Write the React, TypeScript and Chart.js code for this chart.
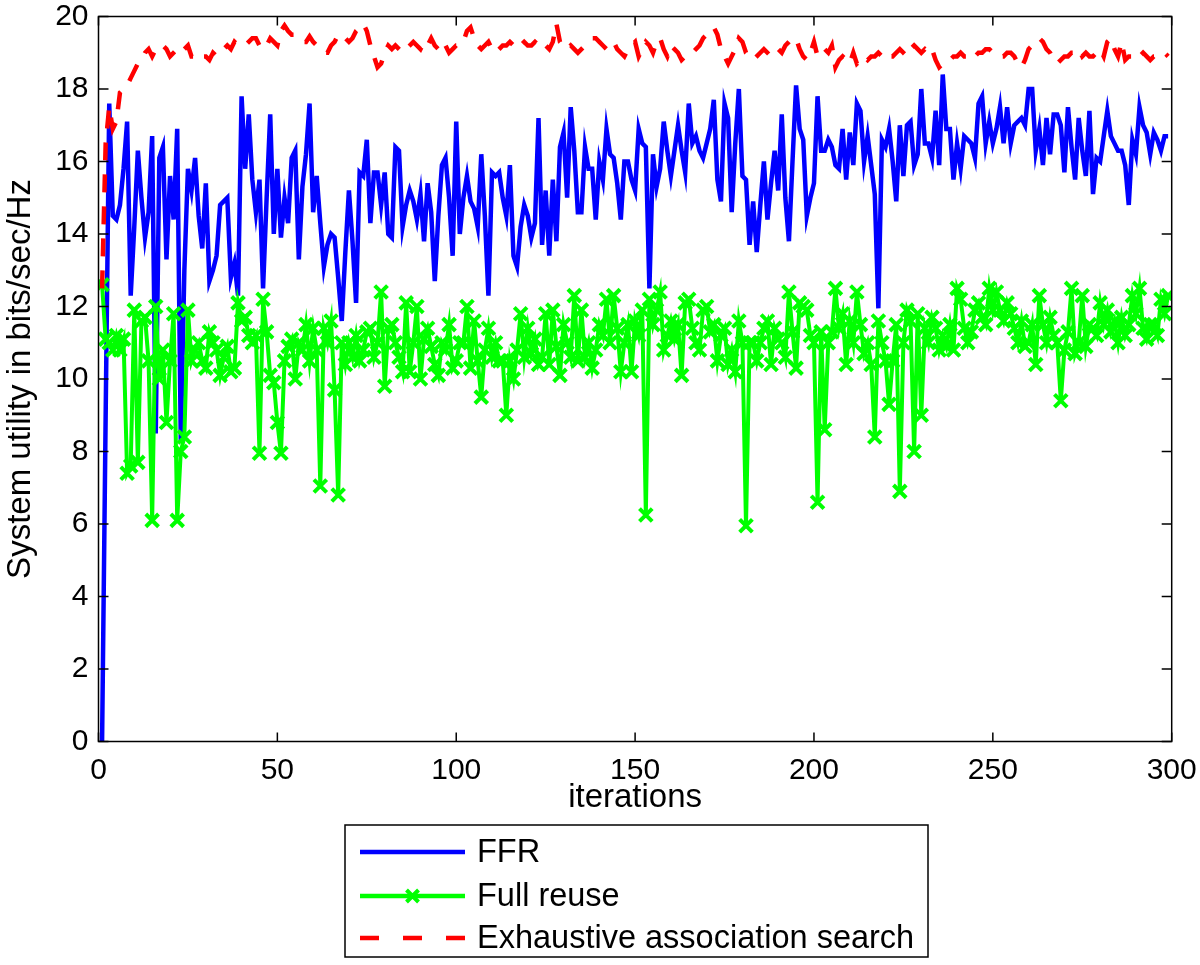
import React, { useEffect, useRef } from "react";
import { Chart, registerables } from "chart.js";

Chart.register(...registerables);

const xTicks = [0, 50, 100, 150, 200, 250, 300];
const yTicks = [0, 2, 4, 6, 8, 10, 12, 14, 16, 18, 20];
const firstIteration = 1;

const seriesLabels = ["FFR", "Full reuse", "Exhaustive association search"];
const xTitle = "iterations";
const yTitle = "System utility in bits/sec/Hz";

const ffr = [
  0, 9.0, 17.6, 14.5, 14.4, 14.8, 15.8, 17.1, 12.3, 14.2,
  16.3, 15.0, 13.9, 14.6, 16.7, 8.5, 16.1, 16.4, 13.3, 15.6,
  14.4, 16.9, 8.3, 13.0, 15.8, 15.2, 16.1, 14.5, 13.6, 15.4,
  12.7, 13.0, 13.4, 14.8, 14.9, 15.0, 12.8, 13.2, 12.3, 17.8,
  15.8, 17.3, 15.5, 14.6, 15.5, 12.5, 15.0, 17.3, 14.0, 15.8,
  13.9, 15.0, 14.3, 16.1, 16.3, 13.3, 15.3, 16.2, 17.6, 14.6,
  15.6, 14.3, 13.1, 13.7, 14.0, 13.9, 12.8, 11.6, 13.5, 15.2,
  13.8, 12.1, 15.7, 15.6, 16.6, 14.3, 15.7, 15.7, 14.8, 15.7,
  14.0, 13.9, 16.4, 16.3, 14.2, 14.8, 15.2, 14.9, 14.4, 15.1,
  13.8, 15.4, 14.6, 12.7, 14.5, 15.9, 16.1, 15.0, 13.4, 17.1,
  14.0, 15.0, 15.6, 14.9, 14.7, 14.2, 16.2, 14.5, 12.3, 15.7,
  15.6, 15.7, 15.0, 14.5, 15.9, 13.4, 13.1, 14.2, 14.8, 14.5,
  13.9, 14.3, 17.2, 13.7, 15.2, 13.4, 15.5, 13.8, 16.4, 16.8,
  15.0, 17.5, 16.3, 14.6, 14.6, 16.4, 15.8, 15.8, 14.4, 16.0,
  15.5, 16.9, 16.2, 16.1, 15.4, 14.4, 16.0, 16.0, 15.5, 15.2,
  16.9, 16.5, 16.4, 12.5, 16.2, 15.3, 15.8, 17.1, 16.3, 15.6,
  16.3, 17.0, 16.3, 15.7, 17.6, 16.5, 16.7, 16.3, 16.1, 16.5,
  16.9, 17.7, 15.5, 14.9, 17.6, 17.2, 14.6, 16.5, 18.0, 15.6,
  15.5, 13.7, 14.9, 13.5, 14.8, 16.0, 14.4, 15.4, 16.3, 15.2,
  17.3, 15.0, 13.8, 16.0, 18.1, 16.9, 16.6, 14.5, 15.0, 15.4,
  17.8, 16.3, 16.3, 16.6, 16.4, 15.9, 15.8, 16.9, 15.5, 16.8,
  15.9, 17.6, 17.4, 16.0, 16.7, 15.9, 15.1, 11.95, 16.6, 16.4,
  16.9, 16.0, 14.9, 17.0, 15.6, 17.0, 17.1, 15.9, 16.2, 18.0,
  16.5, 16.5, 16.1, 17.4, 15.9, 18.4, 16.9, 16.9, 15.5, 16.5,
  15.8, 16.7, 16.6, 16.5, 16.1, 17.6, 17.8, 16.5, 17.1, 16.5,
  16.9, 17.5, 16.5, 17.5, 16.5, 17.0, 17.1, 17.2, 17.0, 18.0,
  18.0, 16.3, 16.9, 15.9, 17.2, 16.2, 17.3, 17.3, 17.0, 15.7,
  17.5, 16.4, 15.5, 17.2, 16.3, 15.6, 17.4, 15.1, 16.1, 16.0,
  16.7, 17.4, 16.7, 16.5, 16.3, 16.3, 15.9, 14.8, 16.6, 16.2,
  17.5, 17.0, 16.8, 16.2, 16.8, 16.6, 16.3, 16.7, 16.7,
];

const fullReuse = [
  12.6, 11.1, 11.0, 10.8, 11.2, 10.8, 11.1, 7.4, 7.6, 11.9,
  7.7, 11.6, 11.7, 10.5, 6.1, 12.0, 10.0, 10.8, 8.8, 10.5,
  11.8, 6.1, 8.0, 8.4, 11.9, 10.5, 10.8, 11.0, 10.5, 10.3,
  11.3, 11.0, 10.8, 10.1, 10.6, 10.9, 10.2, 10.3, 12.1, 11.6,
  11.7, 11.2, 11.0, 11.2, 7.95, 12.2, 11.3, 10.1, 9.9, 8.8,
  7.95, 10.5, 10.9, 11.1, 10.0, 11.0, 10.8, 11.5, 10.5, 11.4,
  10.8, 7.05, 11.4, 11.0, 11.6, 9.7, 6.8, 11.0, 10.4, 11.0,
  10.6, 11.2, 10.5, 10.8, 11.3, 11.4, 10.6, 11.0, 12.4, 9.8,
  11.4, 11.5, 11.0, 10.6, 10.2, 12.1, 10.2, 11.0, 12.0, 10.0,
  11.1, 11.4, 10.9, 10.4, 10.1, 11.0, 10.8, 11.5, 10.3, 10.5,
  11.0, 11.0, 12.0, 10.3, 11.6, 10.5, 9.5, 10.8, 11.4, 10.6,
  11.0, 10.5, 10.5, 9.0, 10.5, 10.0, 10.8, 11.8, 10.6, 11.4,
  10.7, 11.1, 10.4, 10.6, 11.8, 10.4, 11.9, 10.9, 10.1, 11.5,
  11.0, 10.6, 12.3, 10.5, 11.9, 10.6, 11.0, 10.3, 10.8, 11.5,
  11.2, 12.2, 11.0, 12.3, 11.4, 10.2, 11.0, 11.5, 10.2, 11.6,
  11.2, 11.9, 6.25, 12.2, 11.5, 11.9, 12.4, 10.8, 11.2, 11.6,
  11.1, 11.5, 10.1, 12.1, 12.2, 11.4, 11.0, 10.8, 11.9, 12.0,
  11.3, 11.5, 10.5, 11.2, 11.4, 10.4, 10.8, 10.2, 11.6, 11.0,
  5.95, 11.0, 11.0, 10.5, 11.0, 11.4, 11.6, 10.4, 11.4, 11.1,
  11.0, 10.6, 12.4, 11.3, 10.3, 12.1, 12.0, 11.9, 11.2, 11.0,
  6.6, 11.3, 8.6, 11.0, 11.3, 12.5, 11.4, 11.8, 10.4, 11.6,
  11.0, 12.4, 11.5, 10.7, 11.0, 10.4, 8.4, 11.6, 11.0, 10.5,
  9.3, 10.5, 11.5, 6.9, 11.0, 11.9, 11.6, 8.0, 11.8, 9.0,
  11.4, 11.0, 11.7, 11.4, 10.8, 11.2, 10.9, 11.5, 10.8, 12.5,
  12.2, 11.4, 11.0, 11.3, 11.9, 12.1, 11.7, 11.5, 12.5, 11.9,
  12.4, 11.9, 11.6, 12.1, 11.8, 11.4, 11.0, 11.6, 10.9, 11.0,
  11.5, 10.4, 12.3, 11.5, 11.0, 11.7, 11.2, 11.0, 9.4, 10.8,
  11.3, 12.5, 10.7, 11.0, 12.3, 10.9, 11.5, 11.4, 11.2, 12.1,
  11.5, 11.9, 11.3, 11.6, 11.0, 11.7, 11.2, 11.5, 12.3, 11.8,
  12.5, 11.4, 11.1, 11.5, 11.5, 11.2, 12.2, 11.8, 12.3,
];

const exhaustive = [
  12.5, 16.5, 17.5, 16.9, 17.1, 17.9, 18.0, 18.1, 18.3, 18.5,
  18.7, 18.8, 19.0, 19.1, 18.9, 19.1, 19.1, 19.2, 19.1, 18.9,
  19.0, 19.1, 19.0, 19.1, 19.2, 18.9, 18.9, 18.8, 18.9, 18.9,
  18.8, 19.0, 18.9, 19.0, 19.1, 19.2, 19.1, 19.3, 19.2, 19.2,
  19.2, 19.3, 19.4, 19.4, 19.2, 19.1, 19.2, 19.4, 19.3, 19.2,
  19.6, 19.75, 19.6, 19.5, 19.5, 19.4, 19.3, 19.3, 19.45, 19.3,
  19.2, 19.1, 19.0, 19.0, 19.2, 19.3, 19.5, 19.5, 19.4, 19.3,
  19.4, 19.6, 19.7, 19.8, 19.6, 19.2, 18.9, 18.6, 18.7, 19.0,
  19.2, 19.1, 19.2, 19.1, 19.0, 19.1, 19.2, 19.3, 19.2, 19.1,
  19.3, 19.2, 19.4, 19.2, 19.1, 19.3, 19.2, 19.0, 19.1, 19.2,
  19.2, 19.3, 19.6, 19.7, 19.4, 19.2, 19.1, 19.2, 19.3, 19.1,
  19.0, 19.1, 19.2, 19.2, 19.3, 19.2, 19.1, 19.2, 19.3, 19.2,
  19.2, 19.3, 19.2, 19.3, 19.2, 19.1, 19.3, 19.8, 19.3, 19.2,
  19.1, 19.2, 19.1, 19.0, 19.1, 19.2, 19.3, 19.4, 19.4, 19.3,
  19.2, 19.1, 19.2, 19.3, 19.1, 19.0, 18.9, 19.1, 19.2, 19.3,
  18.9, 19.1, 19.3, 19.2, 19.0, 19.3, 19.4, 19.1, 18.9, 19.2,
  19.1, 19.0, 18.8, 18.9, 18.9, 19.0, 19.1, 19.2, 19.4, 19.5,
  19.6, 19.7, 19.5, 19.1, 18.9, 18.7, 18.9, 19.1, 19.4, 19.3,
  19.0, 18.9, 18.8, 18.9, 19.0, 19.1, 19.0, 18.9, 19.0, 19.1,
  19.0, 19.2, 19.3, 19.4, 19.4, 19.1, 18.9, 18.8, 19.0, 19.3,
  18.9, 19.0, 19.1, 19.0, 19.2, 18.6, 18.8, 18.9, 18.8, 18.7,
  19.0, 18.7, 18.8, 18.9, 18.8, 18.9, 18.9, 19.0, 18.9, 18.8,
  18.9, 18.9, 19.0, 19.1, 19.0, 18.9, 19.1, 19.2, 19.1, 19.0,
  19.1, 19.0, 19.1, 18.8, 18.6, 18.7, 18.8, 18.8, 18.9, 18.9,
  19.0, 18.9, 18.9, 18.8, 18.9, 19.0, 19.0, 19.1, 19.1, 19.0,
  18.9, 18.9, 18.9, 19.0, 19.0, 18.9, 18.7, 18.6, 18.8, 19.1,
  19.2, 19.3, 19.4, 19.3, 19.1, 19.0, 18.8, 18.7, 18.8, 18.9,
  18.9, 19.0, 19.0, 19.1, 18.9, 19.0, 18.9, 18.9, 19.0, 19.1,
  18.9, 19.3, 19.4, 19.1, 18.9, 19.3, 18.8, 18.9, 18.9, 18.8,
  18.9, 19.0, 18.9, 18.8, 18.9, 18.9, 18.9, 19.0, 18.9,
];

const BLUE = "#0000ff";
const GREEN = "#00ff00";
const RED = "#ff0000";
const FONT = "'Liberation Sans', Arial, Helvetica, sans-serif";
const TICK_FONT_SIZE = 30;
const TITLE_FONT_SIZE = 33;
const LEGEND_FONT_SIZE = 32.5;
const RED_DASH = [18, 14];

const toPoints = (arr: number[]) =>
  arr.map((y, i) => ({ x: i + firstIteration, y }));

const matlabFrame = {
  id: "matlabFrame",
  afterDatasetsDraw(chart: any) {
    const { ctx, chartArea, scales } = chart;
    const { left, right, top, bottom } = chartArea;
    const xs = scales.x;
    const ys = scales.y;
    ctx.save();
    ctx.strokeStyle = "#000";
    ctx.lineWidth = 1.5;
    ctx.strokeRect(left, top, right - left, bottom - top);
    ctx.beginPath();
    xTicks.forEach((v) => {
      const px = xs.getPixelForValue(v);
      ctx.moveTo(px, bottom);
      ctx.lineTo(px, bottom - 9);
      ctx.moveTo(px, top);
      ctx.lineTo(px, top + 9);
    });
    yTicks.forEach((v) => {
      const py = ys.getPixelForValue(v);
      ctx.moveTo(left, py);
      ctx.lineTo(left + 10, py);
      ctx.moveTo(right, py);
      ctx.lineTo(right - 10, py);
    });
    ctx.stroke();

    ctx.fillStyle = "#000";
    ctx.font = `${TITLE_FONT_SIZE}px ${FONT}`;
    ctx.textAlign = "center";
    ctx.textBaseline = "middle";
    ctx.fillText(xTitle, (left + right) / 2, 798);
    ctx.save();
    ctx.translate(21, (top + bottom) / 2);
    ctx.rotate(-Math.PI / 2);
    ctx.fillText(yTitle, 0, 0);
    ctx.restore();

    // legend box
    const bx = 345, by = 825, bw = 583, bh = 132;
    ctx.fillStyle = "#fff";
    ctx.fillRect(bx, by, bw, bh);
    ctx.strokeStyle = "#000";
    ctx.lineWidth = 1.5;
    ctx.strokeRect(bx, by, bw, bh);
    const rows = [852, 896, 938];
    const colors = [BLUE, GREEN, RED];
    const lx0 = 360, lx1 = 465, tx = 477;
    ctx.font = `${LEGEND_FONT_SIZE}px ${FONT}`;
    rows.forEach((ry, k) => {
      ctx.save();
      ctx.strokeStyle = colors[k];
      ctx.lineWidth = 4.5;
      if (k === 2) ctx.setLineDash([19, 24]);
      ctx.beginPath();
      ctx.moveTo(lx0, ry);
      ctx.lineTo(lx1, ry);
      ctx.stroke();
      ctx.setLineDash([]);
      if (k === 1) {
        const cx = (lx0 + lx1) / 2;
        const d = 6;
        ctx.lineWidth = 4;
        ctx.beginPath();
        ctx.moveTo(cx - d, ry - d);
        ctx.lineTo(cx + d, ry + d);
        ctx.moveTo(cx - d, ry + d);
        ctx.lineTo(cx + d, ry - d);
        ctx.stroke();
      }
      ctx.restore();
      ctx.fillStyle = "#000";
      ctx.textAlign = "left";
      ctx.textBaseline = "middle";
      ctx.fillText(seriesLabels[k], tx, ry + 1);
    });
    ctx.restore();
  },
};

const zeroPadding = (s: any) => {
  s.paddingTop = 0;
  s.paddingBottom = 0;
  s.paddingLeft = 0;
  s.paddingRight = 0;
};

export default function App() {
  const canvasRef = useRef<HTMLCanvasElement | null>(null);

  useEffect(() => {
    document.body.style.margin = "0";
    const canvas = canvasRef.current;
    if (!canvas) return;
    const chart = new Chart(canvas, {
      type: "line",
      data: {
        datasets: [
          {
            label: seriesLabels[0],
            data: toPoints(ffr),
            borderColor: BLUE,
            backgroundColor: BLUE,
            borderWidth: 4.5,
            pointRadius: 0,
            tension: 0,
            order: 2,
          },
          {
            label: seriesLabels[1],
            data: toPoints(fullReuse),
            borderColor: GREEN,
            backgroundColor: GREEN,
            borderWidth: 4,
            pointRadius: 9,
            pointStyle: "crossRot",
            pointBorderColor: GREEN,
            pointBorderWidth: 4,
            tension: 0,
            order: 1,
          },
          {
            label: seriesLabels[2],
            data: toPoints(exhaustive),
            borderColor: RED,
            backgroundColor: RED,
            borderWidth: 4.5,
            borderDash: RED_DASH,
            pointRadius: 0,
            tension: 0,
            order: 0,
          },
        ],
      },
      options: {
        responsive: false,
        animation: false,
        events: [],
        layout: { padding: { left: 0, top: 16.5, right: 28.3, bottom: 0 } },
        plugins: {
          legend: { display: false },
          tooltip: { enabled: false },
        },
        scales: {
          x: {
            type: "linear",
            min: 0,
            max: 300,
            grid: { display: false, drawTicks: false },
            border: { display: false },
            ticks: {
              stepSize: 50,
              color: "#000",
              padding: 11,
              maxRotation: 0,
              font: { family: FONT, size: TICK_FONT_SIZE },
            },
            afterFit: (s: any) => {
              s.height = 965 - 741.5;
              zeroPadding(s);
            },
          },
          y: {
            type: "linear",
            min: 0,
            max: 20,
            grid: { display: false, drawTicks: false },
            border: { display: false },
            ticks: {
              stepSize: 2,
              color: "#000",
              padding: 10,
              font: { family: FONT, size: TICK_FONT_SIZE },
            },
            afterFit: (s: any) => {
              s.width = 98.5;
              zeroPadding(s);
            },
          },
        },
      },
      plugins: [matlabFrame],
    });
    return () => chart.destroy();
  }, []);

  return (
    <div style={{ position: "absolute", left: 0, top: 0, width: 1200, height: 965, background: "#fff" }}>
      <canvas ref={canvasRef} width={1200} height={965} style={{ width: 1200, height: 965 }} />
    </div>
  );
}
